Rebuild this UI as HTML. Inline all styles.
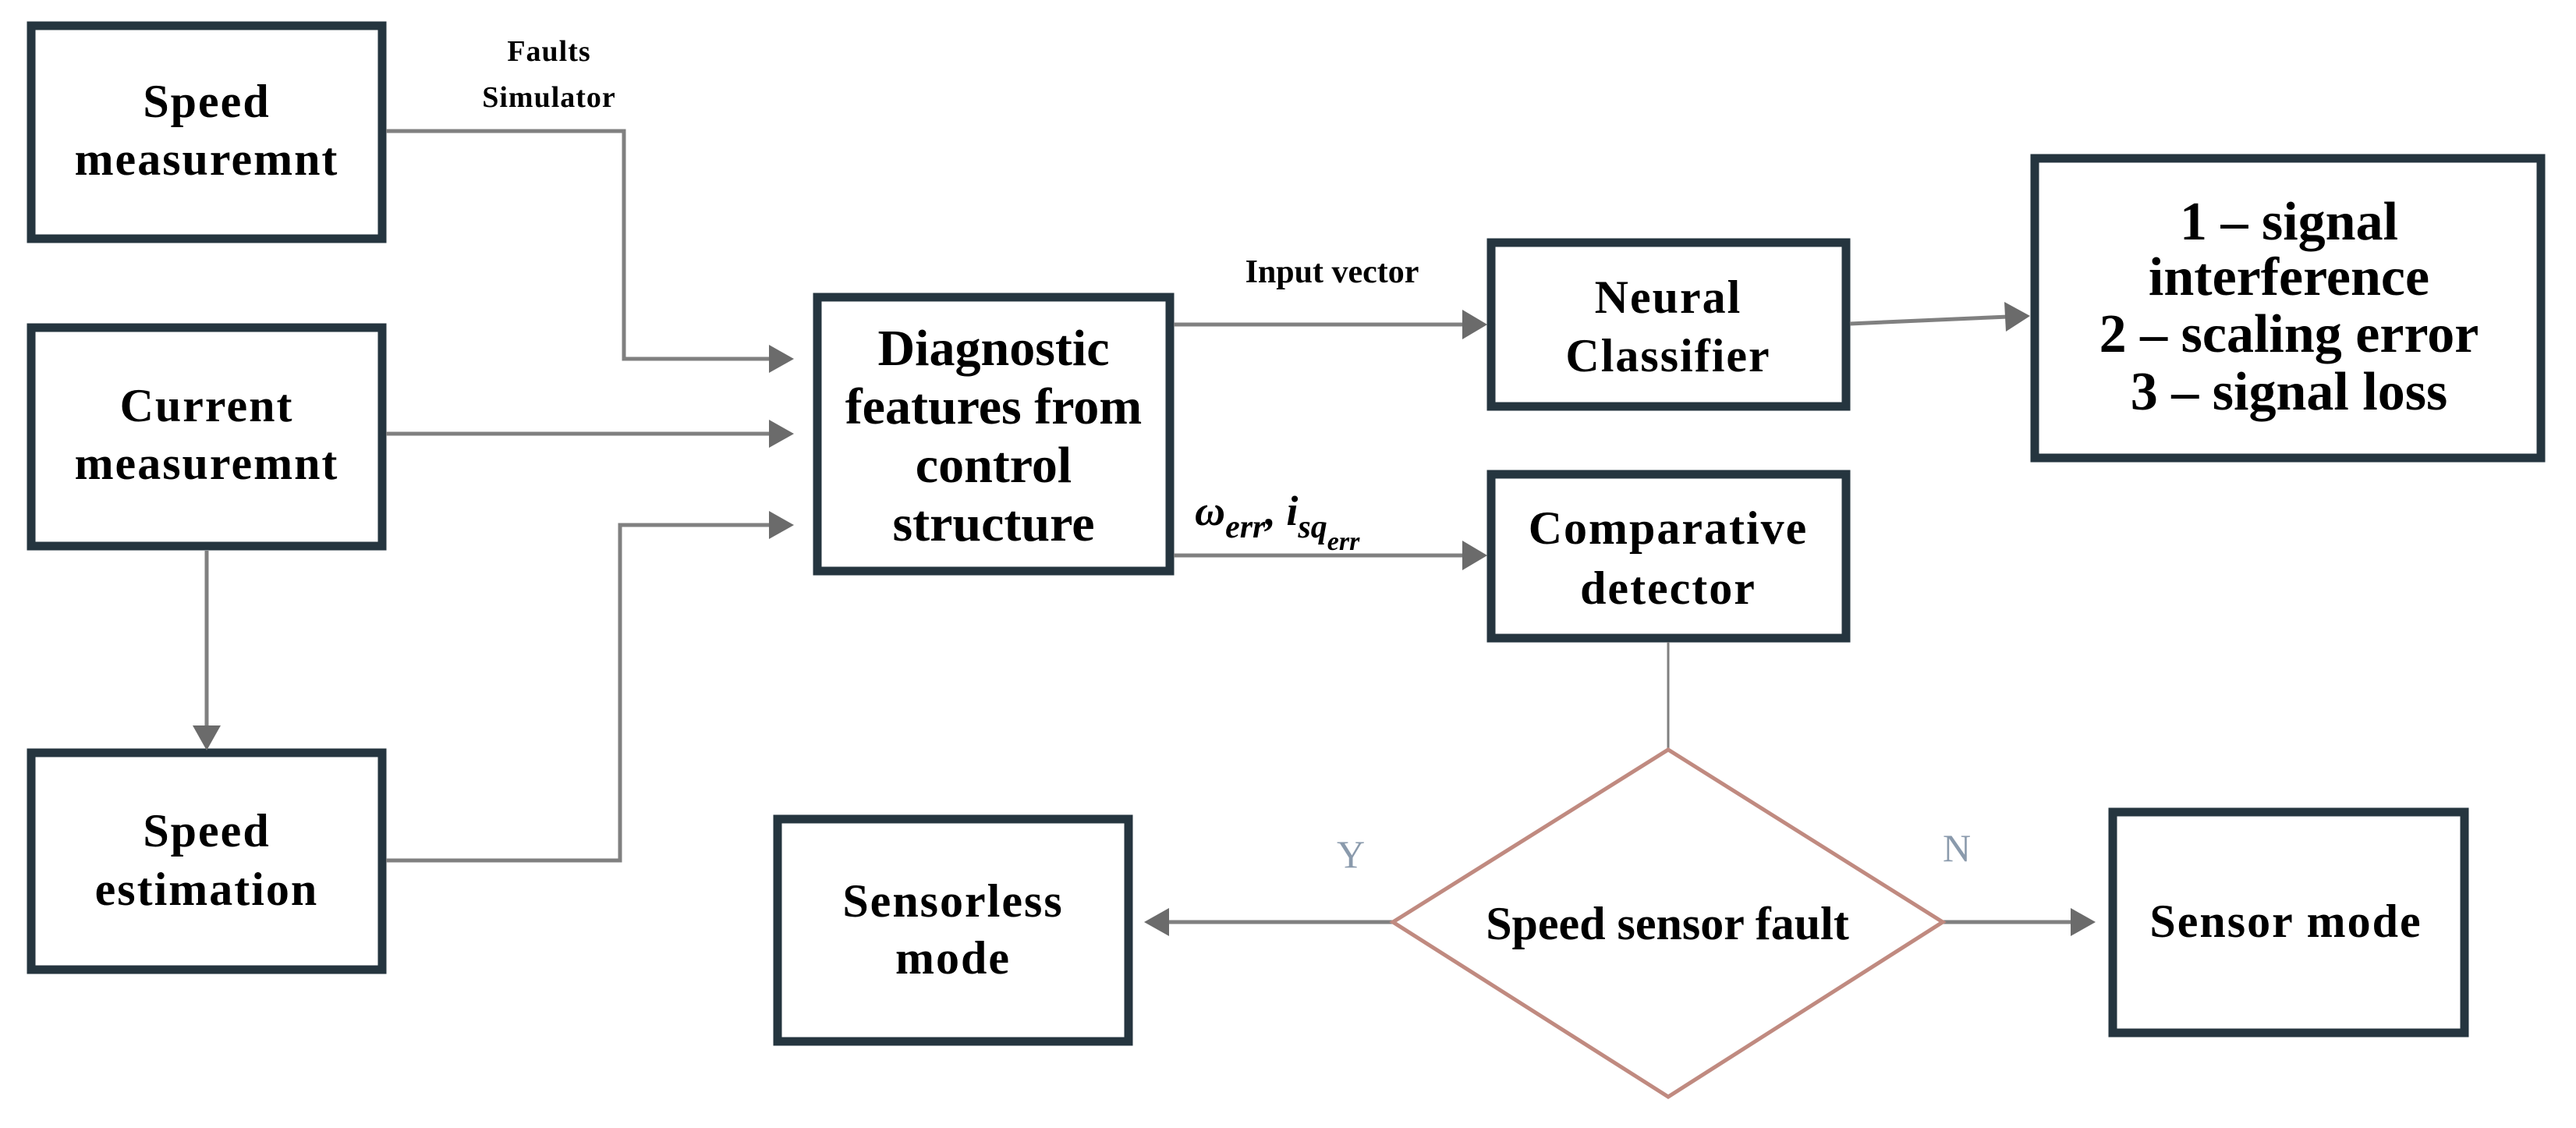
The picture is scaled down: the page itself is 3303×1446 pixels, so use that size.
<!DOCTYPE html>
<html><head><style>
html,body{margin:0;padding:0;background:#fff;}
svg text{font-family:"Liberation Serif",serif;font-weight:bold;fill:#000;}
</style></head><body>
<svg width="3303" height="1441" viewBox="0 0 3303 1441" xmlns="http://www.w3.org/2000/svg">
<g fill="none" stroke="#25353f" stroke-width="11">
<rect x="40" y="33" width="450" height="273"/>
<rect x="40" y="420" width="450" height="280"/>
<rect x="40" y="965" width="450" height="278"/>
<rect x="1048" y="381" width="452" height="351"/>
<rect x="1912" y="311" width="455" height="210"/>
<rect x="1912" y="608" width="455" height="210"/>
<rect x="2609" y="203" width="649" height="384"/>
<rect x="997" y="1050" width="450" height="285"/>
<rect x="2709" y="1041" width="451" height="283"/>
</g>
<g fill="none" stroke="#808080" stroke-width="5">
<polyline points="495,168 800,168 800,460 990,460"/>
<line x1="495" y1="556" x2="990" y2="556"/>
<polyline points="495,1103 795,1103 795,673 990,673"/>
<line x1="265" y1="706" x2="265" y2="935"/>
<line x1="1505" y1="416" x2="1880" y2="416"/>
<line x1="1505" y1="712" x2="1880" y2="712"/>
<line x1="2372" y1="415" x2="2575" y2="406"/>
<line x1="2139" y1="823" x2="2139" y2="959" stroke-width="3"/>
<line x1="1786" y1="1182" x2="1495" y2="1182"/>
<line x1="2491" y1="1182" x2="2657" y2="1182"/>
</g>
<g fill="#6b6b6b">
<polygon points="1018,460 986,442 986,478"/>
<polygon points="1018,556 986,538 986,574"/>
<polygon points="1018,673 986,655 986,691"/>
<polygon points="265,962 247,930 283,930"/>
<polygon points="1907,416 1875,397 1875,435"/>
<polygon points="1907,712 1875,693 1875,731"/>
<polygon points="2603,405 2570,387 2572,425"/>
<polygon points="1467,1182 1499,1164 1499,1200"/>
<polygon points="2687,1182 2655,1164 2655,1200"/>
</g>
<polygon points="2139,961 2491,1182 2139,1406 1786,1182" fill="none" stroke="#c08a80" stroke-width="5"/>
<g text-anchor="middle" font-size="60" letter-spacing="2">
<text x="265" y="150">Speed</text>
<text x="265" y="224">measuremnt</text>
<text x="265" y="540">Current</text>
<text x="265" y="614">measuremnt</text>
<text x="265" y="1085">Speed</text>
<text x="265" y="1160">estimation</text>
<text x="1274" y="468" font-size="66" letter-spacing="0">Diagnostic</text>
<text x="1274" y="543" font-size="66" letter-spacing="0">features from</text>
<text x="1274" y="618" font-size="66" letter-spacing="0">control</text>
<text x="1274" y="693" font-size="66" letter-spacing="0">structure</text>
<text x="2139" y="401">Neural</text>
<text x="2139" y="476">Classifier</text>
<text x="2139" y="697">Comparative</text>
<text x="2139" y="774">detector</text>
<text x="2935" y="307" font-size="70" letter-spacing="0">1 – signal</text>
<text x="2935" y="378" font-size="70" letter-spacing="0">interference</text>
<text x="2935" y="451" font-size="70" letter-spacing="0">2 – scaling error</text>
<text x="2935" y="525" font-size="70" letter-spacing="0">3 – signal loss</text>
<text x="1222" y="1175">Sensorless</text>
<text x="1222" y="1248">mode</text>
<text x="2931" y="1201">Sensor mode</text>
<text x="2138" y="1204" letter-spacing="0">Speed sensor fault</text>
</g>
<g text-anchor="middle" font-size="38" letter-spacing="1">
<text x="704" y="78">Faults</text>
<text x="704" y="137">Simulator</text>
<text x="1708" y="362" font-size="42" letter-spacing="0">Input vector</text>
</g>
<text x="1532" y="673" font-size="54" font-style="italic" font-weight="normal">ω<tspan font-size="42" dy="16">err</tspan><tspan dy="-16">, i</tspan><tspan font-size="42" dy="16">sq</tspan><tspan font-size="34" dy="16">err</tspan></text>
<g font-size="50" text-anchor="middle">
<text x="1732" y="1112" style="fill:#8a9aac;font-weight:normal">Y</text>
<text x="2509" y="1104" style="fill:#8a9aac;font-weight:normal">N</text>
</g>
</svg>
</body></html>
